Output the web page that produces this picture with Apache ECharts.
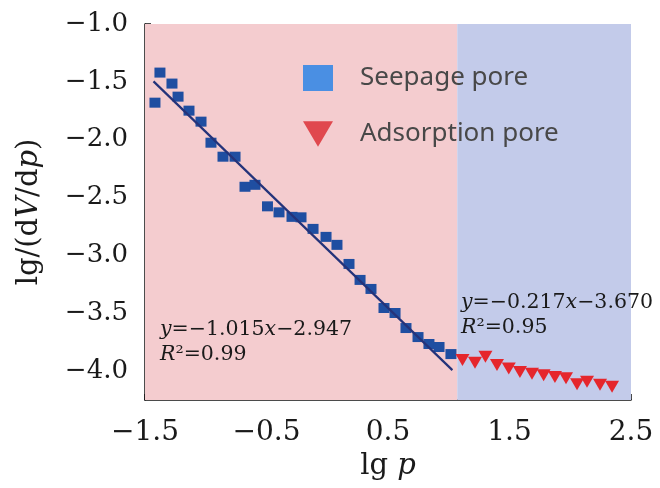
<!DOCTYPE html>
<html>
<head>
<meta charset="utf-8">
<script src="https://cdn.jsdelivr.net/npm/echarts@6/dist/echarts.min.js"></script>
<style>
html,body{margin:0;padding:0;background:#ffffff;}
#chart{width:660px;height:488px;}
</style>
</head>
<body>
<div id="chart"></div>
<script>
// ---- data ----
var seepageX = [-1.418,-1.377,-1.278,-1.228,-1.138,-1.039,-0.957,-0.858,-0.759,-0.677,-0.595,-0.492,-0.397,-0.290,-0.216,-0.117,-0.010,0.080,0.179,0.270,0.360,0.467,0.558,0.648,0.747,0.837,0.920,1.018];
var seepageY = [-1.680,-1.420,-1.515,-1.628,-1.749,-1.844,-2.026,-2.147,-2.147,-2.407,-2.390,-2.576,-2.628,-2.667,-2.671,-2.771,-2.840,-2.909,-3.074,-3.212,-3.290,-3.455,-3.498,-3.628,-3.706,-3.766,-3.792,-3.853];
var adsorptionX = [1.113,1.216,1.302,1.397,1.494,1.586,1.685,1.781,1.874,1.965,2.056,2.138,2.245,2.344];
var adsorptionY = [-3.905,-3.928,-3.876,-3.948,-3.977,-4.009,-4.023,-4.037,-4.052,-4.063,-4.113,-4.093,-4.119,-4.136];
var seepageFitX = [-1.43, 1.03];
var seepageFitY = [-1.496, -3.992];
var regionSplit = 1.07;
var xTicks = [-1.5, -0.5, 0.5, 1.5, 2.5];
var yTicks = [-4.0, -3.5, -3.0, -2.5, -2.0, -1.5, -1.0];
var seriesNames = ['Seepage pore', 'Adsorption pore'];
var fit1Text = ['{i|y}=−1.015{i|x}−2.947', '{i|R}²=0.99'];
var fit2Text = ['{i|y}=−0.217{i|x}−3.670', '{i|R}²=0.95'];

function zip(a, b) { return a.map(function (v, i) { return [v, b[i]]; }); }
function fmt(v) { return (v < 0 ? '−' : '') + Math.abs(v).toFixed(1); }

var serif = 'DejaVu Serif';
var chart = echarts.init(document.getElementById('chart'), null, {renderer: 'canvas'});
var richText = {
  n: {fontFamily: serif, fontSize: 20.5, color: '#1a1a1a'},
  i: {fontFamily: serif, fontSize: 20.5, fontStyle: 'italic', color: '#1a1a1a'}
};
chart.setOption({
  animation: false,
  backgroundColor: '#ffffff',
  grid: {left: 145, right: 29, top: 24, bottom: 88},
  legend: {
    orient: 'vertical',
    left: 298, top: 60,
    itemWidth: 30, itemHeight: 26, itemGap: 30,
    textStyle: {fontFamily: 'Noto Sans', fontSize: 26, color: '#484848', padding: [0, 0, 0, 22]},
    data: [
      {name: seriesNames[0], icon: 'rect', itemStyle: {color: '#4A8FE3', opacity: 1}},
      {name: seriesNames[1], icon: 'path://M0,0L32,0L16,27Z', itemStyle: {color: '#E0484E', opacity: 1}}
    ]
  },
  xAxis: {
    type: 'value', min: -1.5, max: 2.5,
    name: '{n|lg }{i|p}', nameLocation: 'middle', nameGap: 50,
    nameTextStyle: {rich: {
      n: {fontFamily: serif, fontSize: 29, color: '#1a1a1a'},
      i: {fontFamily: serif, fontSize: 29, fontStyle: 'italic', color: '#1a1a1a'}
    }},
    axisLine: {show: true, onZero: false, lineStyle: {color: '#111', width: 1.5}},
    axisTick: {show: true, inside: true, length: 6, customValues: xTicks, lineStyle: {color: '#111', width: 1.5}},
    axisLabel: {customValues: xTicks, formatter: fmt, fontFamily: serif, fontSize: 28, color: '#1a1a1a', margin: 19},
    splitLine: {show: false}
  },
  yAxis: {
    type: 'value', min: -4.25, max: -1.0,
    name: '{n|lg/(d}{i|V}{n|/d}{i|p}{n|)}', nameLocation: 'middle', nameGap: 101, nameRotate: 90,
    nameTextStyle: {rich: {
      n: {fontFamily: serif, fontSize: 29, color: '#1a1a1a'},
      i: {fontFamily: serif, fontSize: 29, fontStyle: 'italic', color: '#1a1a1a'}
    }},
    axisLine: {show: true, onZero: false, lineStyle: {color: '#111', width: 1.5}},
    axisTick: {show: true, inside: true, length: 6, customValues: yTicks, lineStyle: {color: '#111', width: 1.5}},
    axisLabel: {customValues: yTicks, formatter: fmt, fontFamily: serif, fontSize: 26, color: '#1a1a1a', margin: 17},
    splitLine: {show: false}
  },
  series: [
    {
      type: 'line', name: 'bg', silent: true, data: [], z: 0,
      markArea: {
        silent: true,
        data: [
          [{xAxis: -1.5, itemStyle: {color: '#F4CCCF', opacity: 1}}, {xAxis: regionSplit}],
          [{xAxis: regionSplit, itemStyle: {color: '#C3CBEA', opacity: 1}}, {xAxis: 2.5}]
        ]
      }
    },
    {
      type: 'scatter', name: seriesNames[0], data: zip(seepageX, seepageY), symbol: 'rect', symbolSize: [11, 10], z: 3,
      itemStyle: {color: '#1F4EA1', opacity: 1}
    },
    {
      type: 'scatter', name: seriesNames[1], data: zip(adsorptionX, adsorptionY), symbol: 'triangle', symbolRotate: 180, symbolSize: [14, 12], z: 3,
      itemStyle: {color: '#E5262C', opacity: 1}
    },
    {
      type: 'line', name: 'fit1', data: zip(seepageFitX, seepageFitY), symbol: 'none', z: 4,
      lineStyle: {color: '#24337A', width: 2.2}
    }
  ],
  graphic: [
    {type: 'text', left: 160, top: 317, z: 10, style: {text: fit1Text.join('\n'), rich: richText, lineHeight: 25, fontFamily: serif, fontSize: 20.5, fill: '#1a1a1a'}},
    {type: 'text', left: 461, top: 290, z: 10, style: {text: fit2Text.join('\n'), rich: richText, lineHeight: 25, fontFamily: serif, fontSize: 20.5, fill: '#1a1a1a'}}
  ]
});
</script>
</body>
</html>
